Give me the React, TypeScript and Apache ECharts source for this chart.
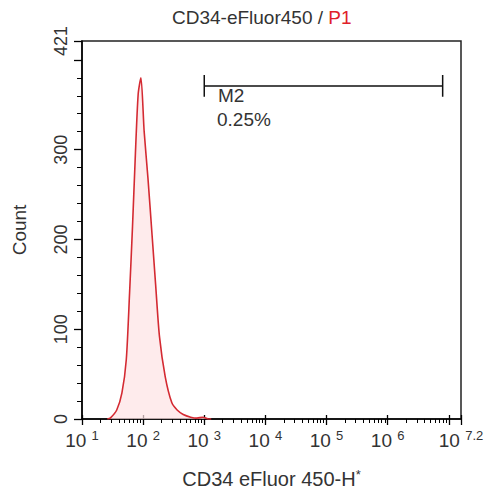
import React, { useEffect, useRef } from 'react';
import * as echarts from 'echarts';

// Histogram: fluorescence intensity (CD34 eFluor 450-H) vs event count
const intensity = [26, 29, 37, 45, 53, 60, 67, 74, 83, 92, 104, 120, 140, 160, 185, 230, 295, 360, 453, 600, 760, 950, 1160, 1300];
const counts = [0, 1, 10, 29, 66, 140, 214, 288, 362, 380, 320, 268, 205, 150, 92, 47, 18, 10, 5, 2, 1, 2, 0, 0];

// Axis ranges (x in decades: 10^1 .. 10^7.2)
const xMinDecade = 1;
const xMaxDecade = 7.2;
const xLabelDecades = [1, 2, 3, 4, 5, 6, 7.2];
const yMax = 421;
const yMajor = 100;
const yMinorStep = 20;

// Marker gate M2
const gateLabel = 'M2';
const gatePercent = '0.25%';
const gateLow = 1000;
const gateHigh = Math.pow(10, 6.9);
const gateY = 371;
const gateCapLow = 359;
const gateCapHigh = 383;

const titleMain = 'CD34-eFluor450 / ';
const titleGate = 'P1';
const xName = 'CD34 eFluor 450-H';
const yName = 'Count';

const FONT = '"Liberation Sans", Arial, sans-serif';
const TXT = '#333';

export default function App() {
  const ref = useRef<HTMLDivElement>(null);
  useEffect(() => {
    if (!ref.current) return;
    const chart = echarts.init(ref.current, undefined, { renderer: 'svg' });

    const xMinorTicks: number[] = [];
    for (let d = 1; d < 8; d++) {
      for (let k = 2; k <= 9; k++) {
        const v = d + Math.log10(k);
        if (v < xMaxDecade) xMinorTicks.push(v);
      }
    }
    const yMinorTicks: number[] = [];
    for (let v = yMinorStep; v < 400; v += yMinorStep) {
      if (v % yMajor !== 0) yMinorTicks.push(v);
    }

    const histData = intensity.map((x, i) => [x, counts[i]]);
    const bracket = [
      [gateLow, gateCapLow],
      [gateLow, gateCapHigh],
      [gateLow, gateY],
      [gateHigh, gateY],
      [gateHigh, gateCapHigh],
      [gateHigh, gateCapLow],
    ];

    const hiddenAxis = {
      axisLine: { show: false },
      axisLabel: { show: false },
      splitLine: { show: false },
    };

    chart.setOption({
      animation: false,
      textStyle: { fontFamily: FONT },
      title: {
        text: `{a|${titleMain}}{b|${titleGate}}`,
        left: 167,
        top: 3,
        textStyle: {
          fontWeight: 'normal',
          rich: {
            a: { fontSize: 19, color: TXT, fontFamily: FONT, fontWeight: 'normal' },
            b: { fontSize: 19, color: '#e0202a', fontFamily: FONT, fontWeight: 'normal' },
          },
        },
      },
      grid: {
        left: 82,
        right: 27,
        top: 41,
        bottom: 78,
        show: true,
        borderColor: '#222',
        borderWidth: 1.5,
        backgroundColor: '#fff',
      },
      xAxis: [
        {
          type: 'log',
          logBase: 10,
          min: Math.pow(10, xMinDecade),
          max: Math.pow(10, xMaxDecade),
          position: 'bottom',
          axisLine: { show: true, lineStyle: { color: '#000', width: 1.5 } },
          axisTick: { show: false },
          axisLabel: { show: false },
          splitLine: { show: false },
          name: `${xName}{s|*}`,
          nameLocation: 'middle',
          nameGap: 49,
          nameTextStyle: {
            fontSize: 20,
            color: TXT,
            fontFamily: FONT,
            rich: {
              s: { fontSize: 13, color: TXT, fontFamily: FONT, padding: [0, 0, 9, 0] },
            },
          },
        },
        {
          type: 'value',
          min: xMinDecade,
          max: xMaxDecade,
          interval: 1,
          position: 'bottom',
          axisLine: { show: false },
          splitLine: { show: false },
          axisTick: { show: true, length: 6, lineStyle: { color: '#000', width: 1.3 } },
          axisLabel: {
            customValues: xLabelDecades,
            margin: 10,
            fontSize: 19,
            color: TXT,
            fontFamily: FONT,
            formatter: (v: number) => `10 {s|${Math.round(v * 10) / 10}}`,
            rich: {
              s: { fontSize: 13, color: TXT, fontFamily: FONT, padding: [0, 0, 10, 0] },
            },
          },
        },
        {
          type: 'value',
          min: xMinDecade,
          max: xMaxDecade,
          position: 'bottom',
          ...hiddenAxis,
          axisTick: {
            show: true,
            customValues: xMinorTicks,
            length: 4,
            lineStyle: { color: '#000', width: 1 },
          },
        },
        {
          type: 'value',
          min: xMinDecade,
          max: xMaxDecade,
          interval: 1,
          position: 'bottom',
          ...hiddenAxis,
          axisTick: {
            show: true,
            inside: true,
            length: 4,
            lineStyle: { color: '#000', width: 1.3 },
          },
        },
      ],
      yAxis: [
        {
          type: 'value',
          min: 0,
          max: yMax,
          interval: yMajor,
          position: 'left',
          axisLine: { show: true, lineStyle: { color: '#000', width: 1.5 } },
          axisTick: { show: true, length: 8, lineStyle: { color: '#000', width: 1.3 } },
          splitLine: { show: false },
          axisLabel: {
            rotate: 90,
            margin: 12,
            fontSize: 18,
            color: TXT,
            fontFamily: FONT,
            formatter: (v: number) => (v === 400 ? '' : String(v)),
          },
          name: yName,
          nameLocation: 'middle',
          nameGap: 53,
          nameTextStyle: { fontSize: 19, color: TXT, fontFamily: FONT },
        },
        {
          type: 'value',
          min: 0,
          max: yMax,
          position: 'left',
          ...hiddenAxis,
          axisTick: {
            show: true,
            customValues: yMinorTicks,
            length: 5,
            lineStyle: { color: '#000', width: 1 },
          },
        },
      ],
      series: [
        {
          type: 'line',
          xAxisIndex: 0,
          yAxisIndex: 0,
          data: histData,
          smooth: 0.25,
          symbol: 'none',
          lineStyle: { color: '#d42a32', width: 1.6 },
          areaStyle: { color: '#fde2e4' },
          z: 3,
        },
        {
          type: 'line',
          xAxisIndex: 0,
          yAxisIndex: 0,
          data: bracket,
          symbol: 'none',
          lineStyle: { color: '#111', width: 1.5 },
          z: 4,
        },
      ],
      graphic: [
        {
          type: 'text',
          left: 218,
          top: 86,
          style: { text: gateLabel, fontSize: 19, fill: TXT, fontFamily: FONT },
        },
        {
          type: 'text',
          left: 217,
          top: 110,
          style: { text: gatePercent, fontSize: 19, fill: TXT, fontFamily: FONT },
        },
      ],
    });
    return () => chart.dispose();
  }, []);
  return <div ref={ref} style={{ width: 488, height: 497, position: 'absolute', left: 0, top: 0 }} />;
}
